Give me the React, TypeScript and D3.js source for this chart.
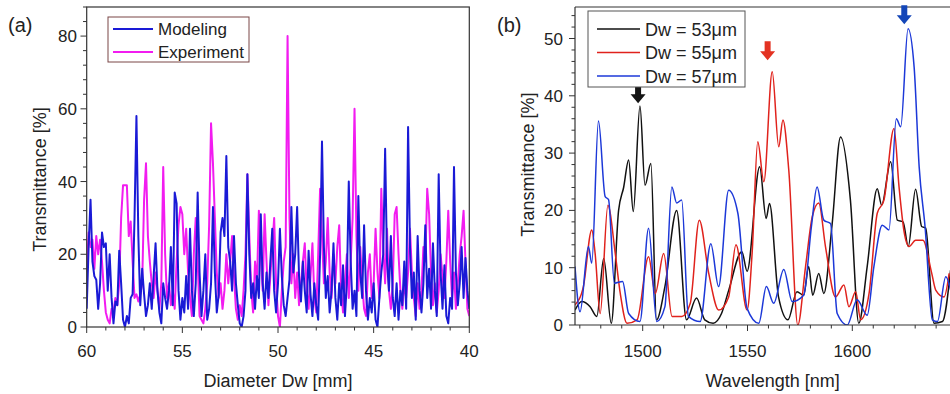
import React from 'react';
import * as d3 from 'd3';

// ---------- Panel (a) data: Diameter Dw from 60 to 40 mm, step 0.1 ----------
const dwStart = 60;
const dwStep = -0.1;
const modeling = [
  5,22,35,18,14,13,5,12,26,22,
  23,10,20,8,1,7,6,21,12,2,
  0,3,1,8,9,30,58,25,6,16,
  9,3,6,12,5,14,23,10,4,1,
  12,8,5,10,22,6,37,34,10,2,
  8,4,14,5,27,10,3,12,37,15,
  3,10,20,2,5,12,33,15,4,9,
  26,30,25,47,22,18,10,25,12,6,
  1,0,3,10,42,20,8,12,5,14,
  8,31,12,5,15,8,18,27,10,4,
  12,27,14,6,3,8,13,33,15,20,
  33,14,7,18,10,4,21,9,3,12,
  6,2,20,51,22,8,14,4,10,23,
  8,2,12,6,17,3,12,40,18,5,
  10,3,36,15,8,28,10,2,8,4,
  12,2,0,8,15,20,49,18,10,25,
  8,3,12,2,10,6,18,5,55,22,
  8,15,2,25,10,4,12,28,8,16,
  5,23,10,3,42,15,5,17,3,1,
  8,5,44,15,6,12,22,8,19,10,5,
];
const experiment = [
  15,26,22,24,16,25,20,24,18,10,
  4,2,1,5,4,8,6,12,30,39,
  39,39,25,29,18,8,9,7,9,12,
  35,45,25,18,12,8,15,10,5,12,
  44,20,8,12,6,10,5,18,28,33,
  31,20,27,15,8,3,20,30,18,3,
  2,1,5,12,28,56,45,30,15,8,
  12,5,10,20,12,18,25,14,5,2,
  6,3,10,20,42,25,10,4,18,12,
  32,20,10,31,18,6,14,22,30,12,
  3,0,10,18,22,80,30,12,20,8,
  15,6,12,18,23,10,5,14,23,8,
  4,20,38,25,12,18,30,15,8,20,
  12,22,28,10,4,12,20,8,18,30,
  60,25,10,22,12,5,3,15,20,8,
  12,27,15,8,38,22,12,27,10,5,
  12,31,33,20,10,5,12,8,15,27,
  15,8,3,12,5,10,22,18,38,31,
  15,6,12,4,10,20,14,8,18,32,
  18,8,15,5,12,20,25,32,18,5,3,
];
const aXTicks = [60, 55, 50, 45, 40];
const aYTicks = [0, 20, 40, 60, 80];

// ---------- Panel (b) data ----------
const wl53 = [1467.7,1470.9,1474.9,1478.1,1481.4,1485.0,1488.5,1490.9,1493.3,1495.5,1498.7,1501.1,1503.9,1506.6,1510.6,1516.2,1520.9,1525.7,1529.6,1533.6,1537.6,1541.0,1547.3,1549.8,1555.8,1558.9,1560.5,1564.8,1569.3,1573.6,1576.8,1579.2,1581.1,1584.0,1586.4,1590.4,1594.4,1599.1,1603.1,1607.1,1611.9,1614.0,1618.3,1621.5,1624.2,1626.7,1630.2,1633.1,1635.0,1639.0,1643.0,1646.9];
const t53 = [2.6,4.1,3.2,1.5,11.6,0.3,20,24,28.8,19.8,38.2,24.4,28.2,0.9,6.7,20,0.9,4.7,0.9,0.3,2,6,12.8,9.4,27.6,18.6,21.2,4.9,0.9,5.8,5.2,10.2,5.2,9,5.5,17.7,32.8,21.8,0.3,10.2,23.8,20.9,28.5,18.3,18,13.7,23.7,17.2,16.9,0.3,0.6,9.6];
const wl55 = [1467.7,1471.7,1475.7,1477.3,1479.7,1483.4,1486.9,1489.3,1492.5,1497.3,1502.8,1506.0,1510.0,1514.0,1518.7,1522.7,1527.0,1531.5,1536.3,1541.0,1544.5,1549.8,1552.2,1554.9,1557.8,1561.8,1564.9,1566.9,1569.7,1574.0,1577.7,1580.9,1584.0,1587.2,1592.0,1596.0,1598.4,1601.6,1604.0,1608.0,1611.9,1615.1,1619.9,1622.3,1624.7,1627.1,1630.2,1633.7,1637.9,1639.8,1643.8,1646.2];
const t55 = [3.5,6.7,16.6,12.5,2,20.9,12.5,5.5,0.3,0.9,11.9,5.5,12.5,1.5,1.5,3.8,18.3,9,2.6,4.9,14,2.6,12.5,32,25,44.2,31.1,35.8,27,0,10.2,18.9,21.3,13.7,4.9,7,3.2,5.8,0.9,5.5,19.5,21.8,34.3,24.1,16.3,13.7,14.8,14.8,9,6.1,4.9,9];
const wl57 = [1467.7,1470.1,1474.1,1475.7,1478.9,1482.1,1483.7,1486.5,1490.4,1493.3,1498.7,1502.8,1506.7,1510.6,1513.9,1516.2,1518.6,1521.8,1527.4,1532.5,1536.2,1541.0,1545.4,1549.8,1555.4,1559.0,1562.5,1567.3,1571.3,1576.8,1580.5,1583.2,1586.4,1589.6,1592.8,1597.6,1602.3,1607.1,1610.3,1614.3,1617.5,1621.0,1623.1,1626.6,1629.5,1631.9,1634.7,1638.2,1640.6,1644.6,1647.0];
const t57 = [10.2,2.3,13.7,10.8,35.6,22.4,21.9,7.3,7.6,2,0.6,16.9,0.6,3.2,24.1,21.3,21.8,1.5,0.6,14.2,6.7,23.5,19.5,2.9,0.3,6.7,3.8,9.7,4.1,5.2,17.2,24.1,18.3,17.7,2,0,4.4,1.7,10.2,17.4,16.6,36,34.6,51.7,45,27.6,17.2,0.9,0.6,8.4,6];
const bXTicks = [1500, 1550, 1600];
const bYTicks = [0, 10, 20, 30, 40, 50];
const bLegend = ['Dw = 53\u03bcm', 'Dw = 55\u03bcm', 'Dw = 57\u03bcm'];
const bColors = ['#111111', '#e0221c', '#1c38d8'];
const arrowWl = [1497.8, 1559.6, 1624.8];
const arrowTip = [38.7, 46.2, 52.5];
const arrowColors = ['#151515', '#e33222', '#1446b8'];

const FONT = '"Liberation Sans", Arial, sans-serif';
const AX = '#333';

export default function App() {
  // Panel (a)
  const ax = d3.scaleLinear().domain([60, 40]).range([86.7, 469.3]);
  const ay = d3.scaleLinear().domain([0, 88]).range([327, 7]);
  const dw = modeling.map((_, i) => dwStart + dwStep * i);
  const aLine = d3.line<number>().x((_, i) => ax(dw[i])).y((d) => ay(d));
  const aMinorX = d3.range(40, 61, 1);
  const aMinorY = d3.range(0, 89, 4);

  // Panel (b)
  const bx = d3.scaleLinear().domain([1467.7, 1650]).range([575, 957.1]);
  const by = d3.scaleLinear().domain([0, 55.5]).range([325, 7]);
  const bSeries = [
    { wl: wl53, t: t53 },
    { wl: wl55, t: t55 },
    { wl: wl57, t: t57 },
  ];
  const bLine = (s: { wl: number[]; t: number[] }) =>
    d3
      .line<number>()
      .x((_, i) => bx(s.wl[i]))
      .y((d) => by(d))
      .curve(d3.curveMonotoneX)(s.t) as string;
  const bMinorX = d3.range(1470, 1651, 10);
  const bMinorY = d3.range(0, 55, 2);

  const arrowPath = (cx: number, tip: number) =>
    `M${cx - 3},${tip - 19}L${cx + 3},${tip - 19}L${cx + 3},${tip - 9}L${cx + 7.5},${tip - 9}L${cx},${tip}L${cx - 7.5},${tip - 9}L${cx - 3},${tip - 9}Z`;

  return (
    <svg
      width={950}
      height={394}
      style={{ position: 'absolute', left: 0, top: 0, background: '#fff' }}
      fontFamily={FONT}
    >
      <defs>
        <clipPath id="clipA">
          <rect x={86.7} y={7} width={469.3 - 86.7} height={320} />
        </clipPath>
        <clipPath id="clipB">
          <rect x={575} y={7} width={400} height={318} />
        </clipPath>
      </defs>

      {/* ---------------- Panel (a) ---------------- */}
      <text x={8} y={32} fontSize={20} fill="#222">(a)</text>
      <g clipPath="url(#clipA)">
        <path d={aLine(experiment) as string} fill="none" stroke="#f21cf0" strokeWidth={2} strokeLinejoin="round" />
        <path d={aLine(modeling) as string} fill="none" stroke="#1a1ad6" strokeWidth={2} strokeLinejoin="round" />
      </g>
      <rect x={86.7} y={7} width={469.3 - 86.7} height={320} fill="none" stroke={AX} strokeWidth={1.2} />
      {aMinorX.map((v) => (
        <line key={'amx' + v} x1={ax(v)} x2={ax(v)} y1={327} y2={aXTicks.includes(v) ? 333 : 330.5} stroke={AX} strokeWidth={1} />
      ))}
      {aMinorY.map((v) => (
        <line key={'amy' + v} x1={86.7} x2={aYTicks.includes(v) ? 80.5 : 83} y1={ay(v)} y2={ay(v)} stroke={AX} strokeWidth={1} />
      ))}
      {aXTicks.map((v) => (
        <text key={'axt' + v} x={ax(v)} y={357} fontSize={17} textAnchor="middle" fill="#222">{v}</text>
      ))}
      {aYTicks.map((v) => (
        <text key={'ayt' + v} x={77} y={ay(v) + 6} fontSize={17} textAnchor="end" fill="#222">{v}</text>
      ))}
      <text x={ax(50)} y={387} fontSize={18} textAnchor="middle" fill="#222">Diameter Dw [mm]</text>
      <text transform={`translate(46,${ay(40) - 2}) rotate(-90)`} fontSize={18} textAnchor="middle" fill="#222">Transmittance [%]</text>

      {/* legend (a) */}
      <rect x={108} y={17} width={141} height={45} fill="#fff" stroke="#7a4646" strokeWidth={1} />
      <line x1={113} x2={153} y1={29} y2={29} stroke="#1a1ad6" strokeWidth={1.8} />
      <line x1={113} x2={153} y1={52} y2={52} stroke="#f21cf0" strokeWidth={1.8} />
      <text x={158} y={35} fontSize={17} fill="#222">Modeling</text>
      <text x={158} y={58} fontSize={17} fill="#222">Experiment</text>

      {/* ---------------- Panel (b) ---------------- */}
      <text x={497} y={32} fontSize={20} fill="#222">(b)</text>
      <g clipPath="url(#clipB)">
        {bSeries.map((s, k) => (
          <path key={'bs' + k} d={bLine(s)} fill="none" stroke={bColors[k]} strokeWidth={1.5} strokeLinejoin="round" />
        ))}
      </g>
      <line x1={575} x2={950} y1={7} y2={7} stroke={AX} strokeWidth={1.2} />
      <line x1={575} x2={575} y1={7} y2={325} stroke={AX} strokeWidth={1.2} />
      <line x1={575} x2={950} y1={325} y2={325} stroke={AX} strokeWidth={1.2} />
      {bMinorX.map((v) => (
        <line key={'bmx' + v} x1={bx(v)} x2={bx(v)} y1={325} y2={v % 50 === 0 ? 331 : 328.5} stroke={AX} strokeWidth={1} />
      ))}
      {bMinorY.map((v) => (
        <line key={'bmy' + v} x1={575} x2={v % 10 === 0 ? 569 : 571.5} y1={by(v)} y2={by(v)} stroke={AX} strokeWidth={1} />
      ))}
      {bXTicks.map((v) => (
        <text key={'bxt' + v} x={bx(v)} y={357} fontSize={17} textAnchor="middle" fill="#222">{v}</text>
      ))}
      {bYTicks.map((v) => (
        <text key={'byt' + v} x={563} y={by(v) + 6} fontSize={17} textAnchor="end" fill="#222">{v}</text>
      ))}
      <text x={bx(1562)} y={387} fontSize={18} textAnchor="middle" fill="#222">Wavelength [nm]</text>
      <text transform={`translate(534,${by(28)}) rotate(-90)`} fontSize={18} textAnchor="middle" fill="#222">Transmittance [%]</text>

      {/* arrows */}
      {arrowWl.map((w, k) => (
        <path key={'ar' + k} d={arrowPath(bx(w), by(arrowTip[k]))} fill={arrowColors[k]} />
      ))}

      {/* legend (b) */}
      <rect x={588} y={11} width={157} height={76} fill="#fff" stroke="#555" strokeWidth={1} />
      {bLegend.map((t, k) => (
        <g key={'bl' + k}>
          <line x1={597} x2={640} y1={29 + k * 23.5} y2={29 + k * 23.5} stroke={bColors[k]} strokeWidth={1.5} />
          <text x={645} y={35.5 + k * 23.5} fontSize={18} fill="#222">{t}</text>
        </g>
      ))}
    </svg>
  );
}
